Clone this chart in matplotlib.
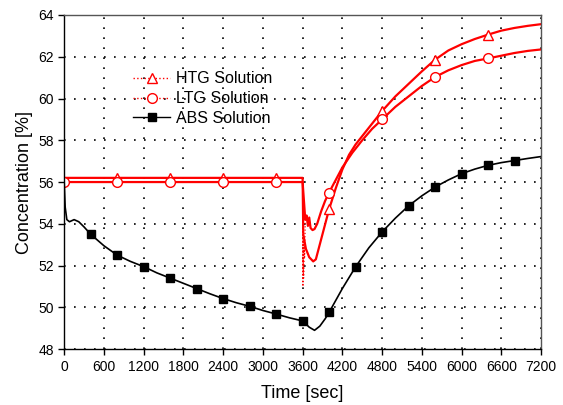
import matplotlib
matplotlib.use("Agg")
import matplotlib.pyplot as plt
from matplotlib.lines import Line2D

plt.rcParams['font.family'] = ['Liberation Sans', 'DejaVu Sans']

# HTG solution (red, triangles)
htg_t = [0, 3600, 3610, 3650, 3700, 3760, 3800, 3850, 3900, 3950, 4000, 4100, 4200,
         4300, 4400, 4500, 4800, 5000, 5200, 5400, 5600, 5800, 6000, 6200, 6400,
         6600, 6800, 7000, 7200]
htg_c = [56.2, 56.2, 53.5, 52.8, 52.4, 52.2, 52.3, 52.9, 53.5, 54.1, 54.7, 55.7, 56.6,
         57.3, 57.8, 58.2, 59.4, 60.1, 60.7, 61.3, 61.86, 62.3, 62.6, 62.85, 63.06,
         63.25, 63.38, 63.48, 63.56]
htg_drop_t = [3600, 3602, 3605, 3608, 3612, 3616, 3620]
htg_drop_c = [56.2, 53.0, 51.0, 52.3, 51.6, 52.8, 53.3]
htg_mark_t = [800, 1600, 2400, 3200, 4000, 4800, 5600, 6400]
htg_mark_c = [56.2, 56.2, 56.2, 56.2, 54.7, 59.4, 61.86, 63.06]

# LTG solution (red, circles)
ltg_t = [0, 3600, 3640, 3660, 3680, 3700, 3720, 3750, 3780, 3820, 3880, 3940, 4000,
         4100, 4200, 4350, 4500, 4650, 4800, 5000, 5200, 5400, 5600, 5800, 6000,
         6200, 6400, 6600, 6800, 7000, 7200]
ltg_c = [56.0, 56.0, 54.2, 54.4, 53.9, 54.3, 53.8, 53.7, 53.75, 54.0, 54.6, 55.1, 55.5,
         56.1, 56.7, 57.4, 58.0, 58.55, 59.0, 59.6, 60.1, 60.6, 61.03, 61.35, 61.6,
         61.8, 61.92, 62.05, 62.18, 62.28, 62.35]
ltg_drop_t = [3600, 3603, 3606, 3610, 3615, 3622, 3630, 3640]
ltg_drop_c = [56.0, 54.6, 52.2, 53.4, 51.4, 53.0, 52.4, 54.2]
ltg_mark_t = [0, 800, 1600, 2400, 3200, 4000, 4800, 5600, 6400]
ltg_mark_c = [56.0, 56.0, 56.0, 56.0, 56.0, 55.46, 59.0, 61.03, 61.92]

# ABS solution (black, squares)
abs_t = [0, 15, 40, 80, 150, 220, 300, 400, 600, 800, 1000, 1200, 1400, 1600, 1800,
         2000, 2200, 2400, 2600, 2800, 3000, 3200, 3400, 3600, 3700, 3780, 3860,
         3940, 4000, 4200, 4400, 4600, 4800, 5000, 5200, 5400, 5600, 5800, 6000,
         6200, 6400, 6600, 6800, 7000, 7200]
abs_c = [56.0, 54.8, 54.2, 54.1, 54.2, 54.1, 53.85, 53.5, 52.95, 52.5, 52.2, 51.95,
         51.65, 51.4, 51.15, 50.9, 50.65, 50.42, 50.22, 50.05, 49.85, 49.68, 49.5,
         49.35, 49.05, 48.9, 49.1, 49.45, 49.76, 50.9, 51.94, 52.85, 53.61, 54.27,
         54.86, 55.34, 55.76, 56.1, 56.4, 56.62, 56.8, 56.93, 57.03, 57.13, 57.22]
abs_mark_t = [400, 800, 1200, 1600, 2000, 2400, 2800, 3200, 3600, 4000, 4400, 4800,
              5200, 5600, 6000, 6400, 6800]
abs_mark_c = [53.5, 52.5, 51.95, 51.4, 50.9, 50.42, 50.05, 49.68, 49.35, 49.76, 51.94,
              53.61, 54.86, 55.76, 56.4, 56.8, 57.03]

fig = plt.figure(figsize=(5.63, 4.05), dpi=100)
ax = fig.add_axes([0.114, 0.138, 0.847, 0.825])

ax.plot(htg_t, htg_c, color='red', lw=1.6)
ax.plot(htg_drop_t, htg_drop_c, color='red', lw=0.9, ls=':')
ax.plot(htg_mark_t, htg_mark_c, ls='none', marker='^', ms=7, mfc='white', mec='red', mew=1.0)

ax.plot(ltg_t, ltg_c, color='red', lw=1.6)
ax.plot(ltg_drop_t, ltg_drop_c, color='red', lw=0.9, ls=':')
ax.plot(ltg_mark_t, ltg_mark_c, ls='none', marker='o', ms=7, mfc='white', mec='red', mew=1.0)

ax.plot(abs_t, abs_c, color='black', lw=1.2)
ax.plot(abs_mark_t, abs_mark_c, ls='none', marker='s', ms=6, color='black')

ax.set_xlim(0, 7200)
ax.set_ylim(48, 64)
ax.set_xticks(range(0, 7201, 600))
ax.set_yticks(range(48, 65, 2))
ax.tick_params(direction='out', length=4, labelsize=10, width=1)
ax.grid(True, color='black', ls=(0, (1, 5)), lw=1.2)
for s in ax.spines.values():
    s.set_linewidth(1.0)
ax.spines['top'].set_color('#555555')
ax.spines['right'].set_color('#555555')

ax.set_xlabel('Time [sec]', fontsize=13, labelpad=8)
ax.set_ylabel('Concentration [%]', fontsize=13, labelpad=4)

handles = [
    Line2D([], [], color='red', ls=':', lw=1, marker='^', ms=7, mfc='white', mec='red'),
    Line2D([], [], color='red', ls=':', lw=1, marker='o', ms=7, mfc='white', mec='red'),
    Line2D([], [], color='black', ls='-', lw=1, marker='s', ms=6),
]
ax.legend(handles, ['HTG Solution', 'LTG Solution', 'ABS Solution'],
          loc='upper left', bbox_to_anchor=(0.128, 0.855), frameon=False,
          fontsize=11.5, handlelength=2.3, handletextpad=0.35,
          labelspacing=0.3, borderpad=0)

fig.savefig('out.png', dpi=100)
